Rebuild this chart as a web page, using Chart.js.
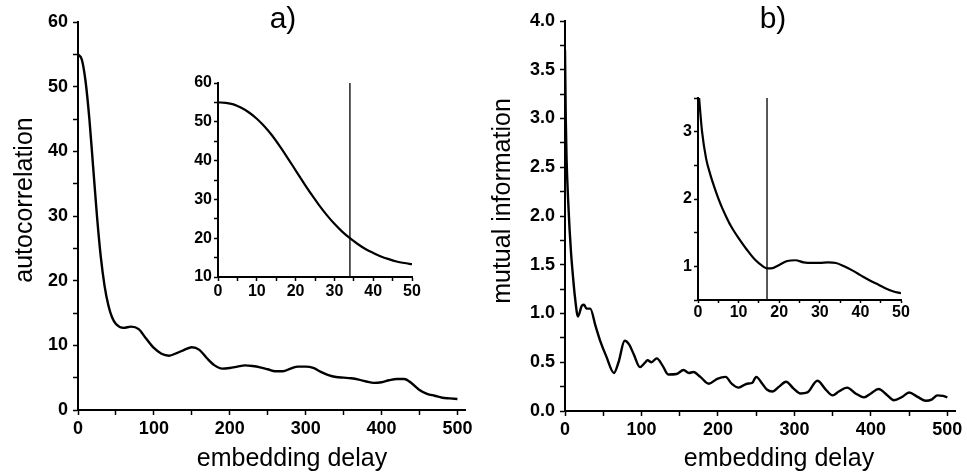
<!DOCTYPE html>
<html>
<head>
<meta charset="utf-8">
<script src="https://cdn.jsdelivr.net/npm/chart.js@4/dist/chart.umd.min.js"></script>
<style>
  body { margin: 0; background: #fff; }
  #wrap { position: relative; width: 967px; height: 476px; }
  canvas { position: absolute; }
</style>
</head>
<body>
<div id="wrap">
  <canvas id="mainA" width="480" height="476" style="left:0;top:0"></canvas>
  <canvas id="mainB" width="480" height="476" style="left:487px;top:0"></canvas>
  <canvas id="insetA" width="250" height="232" style="left:180px;top:68px"></canvas>
  <canvas id="insetB" width="270" height="235" style="left:650px;top:85px"></canvas>
</div>
<script>
// a) autocorrelation vs embedding delay
const delayA = [0, 5, 10, 15, 20, 25, 30, 35, 40, 45, 50,
  60, 70, 80, 90, 100, 110, 120, 130, 140, 150, 160, 170, 180, 190, 200,
  210, 220, 230, 240, 250, 260, 270, 280, 290, 300, 310, 320, 330, 340, 350,
  360, 370, 380, 390, 400, 410, 420, 430, 440, 450, 460, 470, 480, 490, 500];
const acfA = [55, 54.2, 50.8, 45.0, 37.5, 30.0, 23.7, 19.2, 16.2, 14.3, 13.3,
  12.7, 12.9, 12.5, 11.0, 9.6, 8.7, 8.4, 8.8, 9.3, 9.7, 9.3, 8.0, 6.9, 6.4, 6.5,
  6.7, 6.9, 6.8, 6.6, 6.3, 6.0, 6.0, 6.4, 6.7, 6.7, 6.5, 5.9, 5.4, 5.1, 5.0,
  4.9, 4.7, 4.4, 4.2, 4.3, 4.6, 4.8, 4.8, 4.1, 3.1, 2.5, 2.2, 1.9, 1.8, 1.7];

// a) inset, first 50 delays
const delayInsetA = [0, 2, 4, 6, 8, 10, 12, 14, 16, 18, 20, 22, 24, 26, 28, 30,
  32, 34, 36, 38, 40, 42, 44, 46, 48, 50];
const acfInsetA = [55, 54.9, 54.5, 53.6, 52.4, 50.8, 48.8, 46.4, 43.6, 40.6, 37.5,
  34.4, 31.4, 28.6, 26.0, 23.7, 21.7, 20.0, 18.5, 17.2, 16.2, 15.3, 14.6, 14.0, 13.6, 13.3];
const markA = 34;

// b) mutual information vs embedding delay
const delayB = [0, 1, 2, 4, 6, 8, 10, 13, 17, 22, 25, 28, 33, 40, 46, 54, 64, 70, 78, 84,
  90, 98, 104, 108, 113, 120, 128, 135, 146, 155, 162, 168, 177, 188, 199, 210, 218, 227, 238, 245,
  250, 258, 264, 271, 280, 289, 299, 308, 317, 330, 341, 350, 358, 369, 380, 391, 400, 410, 421, 430,
  441, 450, 461, 472, 480, 487, 494, 500];
const miB = [3.7, 3.0, 2.6, 2.18, 1.86, 1.61, 1.42, 1.17, 0.97, 1.08, 1.09, 1.05, 1.05, 0.87, 0.72, 0.56, 0.39, 0.5, 0.72, 0.68,
  0.58, 0.45, 0.49, 0.52, 0.5, 0.54, 0.46, 0.375, 0.38, 0.42, 0.39, 0.40, 0.35, 0.28, 0.33, 0.35, 0.28, 0.24, 0.28, 0.29,
  0.35, 0.28, 0.22, 0.2, 0.25, 0.3, 0.23, 0.18, 0.19, 0.31, 0.22, 0.16, 0.2, 0.24, 0.18, 0.14, 0.18, 0.225, 0.165, 0.11,
  0.145, 0.19, 0.145, 0.105, 0.12, 0.16, 0.155, 0.14];

// b) inset
const delayInsetB = [0, 1, 2, 3, 4, 5, 6, 7, 8, 9, 10, 12, 14, 16, 17, 18, 20, 22, 24, 26,
  28, 30, 32, 34, 36, 38, 40, 42, 44, 46, 48, 50];
const miInsetB = [3.7, 3.0, 2.6, 2.37, 2.18, 2.01, 1.86, 1.73, 1.61, 1.51, 1.42, 1.25, 1.1, 1.0, 0.97, 0.97, 1.02, 1.08, 1.09, 1.06,
  1.05, 1.05, 1.06, 1.05, 1.0, 0.94, 0.87, 0.8, 0.74, 0.68, 0.63, 0.6];
const markB = 17;

// tick labels
const mainXLabels = [0, 100, 200, 300, 400, 500];
const mainAYLabels = [0, 10, 20, 30, 40, 50, 60];
const mainBYLabels = [0, 0.5, 1.0, 1.5, 2.0, 2.5, 3.0, 3.5, 4.0];
const insetXLabels = [0, 10, 20, 30, 40, 50];
const insetAYLabels = [10, 20, 30, 40, 50, 60];
const insetBYLabels = [1, 2, 3];

const FONT = '"Liberation Sans", Arial, Helvetica, sans-serif';
Chart.defaults.font.family = FONT;
Chart.defaults.color = '#000';

function pts(xs, ys) {
  return xs.map((x, i) => ({ x: x, y: ys[i] }));
}

function textLayer(items) {
  return {
    id: 'textLayer',
    afterDraw(chart) {
      const ctx = chart.ctx;
      items.forEach(it => {
        ctx.save();
        ctx.font = it.font;
        ctx.fillStyle = '#000';
        ctx.textAlign = 'center';
        ctx.textBaseline = 'alphabetic';
        ctx.translate(it.x, it.y);
        if (it.rotate) ctx.rotate(it.rotate);
        ctx.fillText(it.text, 0, 0);
        ctx.restore();
      });
    }
  };
}

function makeAxis(o) {
  const near = (a, b) => Math.abs(a - b) < 1e-6;
  return {
    type: 'linear',
    min: o.min,
    max: o.max,
    afterFit: s => { if (o.width) s.width = o.width; if (o.height) s.height = o.height; },
    // major + minor tick marks from min up to the last labelled value
    afterBuildTicks: s => {
      const ticks = [];
      for (let v = o.min; v <= o.last + 1e-6; v += o.step) ticks.push({ value: +v.toFixed(6) });
      s.ticks = ticks;
    },
    ticks: {
      autoSkip: false,
      maxRotation: 0,
      padding: o.pad,
      color: '#000',
      font: { size: o.size, weight: 'bold' },
      callback: v => o.labels.some(l => near(l, v)) ? (o.fmt ? o.fmt(v) : String(v)) : ''
    },
    grid: {
      drawOnChartArea: false,
      drawTicks: true,
      tickLength: o.tick,
      tickColor: '#000',
      tickWidth: 1.5
    },
    border: { display: true, color: '#000', width: 2 }
  };
}

function lineSet(data, w) {
  return {
    data: data,
    borderColor: '#000',
    borderWidth: w,
    pointRadius: 0,
    fill: false,
    cubicInterpolationMode: 'monotone'
  };
}

function markerSet(x, lo, hi) {
  return {
    data: [{ x: x, y: lo }, { x: x, y: hi }],
    borderColor: '#111',
    borderWidth: 1.4,
    pointRadius: 0,
    fill: false
  };
}

function makeChart(id, datasets, x, y, padding, items) {
  return new Chart(document.getElementById(id), {
    type: 'line',
    data: { datasets: datasets },
    options: {
      responsive: false,
      animation: false,
      layout: { padding: padding },
      plugins: { legend: { display: false }, tooltip: { enabled: false } },
      scales: { x: x, y: y }
    },
    plugins: [textLayer(items)]
  });
}

const titleFont = '25px ' + FONT;
const panelFont = '30px ' + FONT;

makeChart('mainA',
  [lineSet(pts(delayA, acfA), 2.4)],
  makeAxis({ min: 0, max: 510, last: 500, step: 50, labels: mainXLabels, size: 18, pad: 3, tick: 5, height: 66 }),
  makeAxis({ min: 0, max: 60, last: 60, step: 5, labels: mainAYLabels, size: 18, pad: 5, tick: 5, width: 78 }),
  { top: 22, right: 15, left: 0, bottom: 0 },
  [
    { text: 'a)', x: 283, y: 28, font: panelFont },
    { text: 'autocorrelation', x: 32, y: 200, font: titleFont, rotate: -Math.PI / 2 },
    { text: 'embedding delay', x: 292, y: 466, font: titleFont }
  ]);

makeChart('mainB',
  [lineSet(pts(delayB, miB), 2.4)],
  makeAxis({ min: 0, max: 510, last: 500, step: 50, labels: mainXLabels, size: 18, pad: 3, tick: 5, height: 65 }),
  makeAxis({ min: 0, max: 4, last: 4, step: 0.25, labels: mainBYLabels, size: 18, pad: 5, tick: 5, width: 78, fmt: v => v.toFixed(1) }),
  { top: 21, right: 12, left: 0, bottom: 0 },
  [
    { text: 'b)', x: 286, y: 28, font: panelFont },
    { text: 'mutual information', x: 23, y: 201, font: titleFont, rotate: -Math.PI / 2 },
    { text: 'embedding delay', x: 292, y: 466, font: titleFont }
  ]);

makeChart('insetA',
  [lineSet(pts(delayInsetA, acfInsetA), 2.2), markerSet(markA, 10, 60)],
  makeAxis({ min: 0, max: 50, last: 50, step: 5, labels: insetXLabels, size: 16, pad: 1, tick: 4, height: 23 }),
  makeAxis({ min: 10, max: 60, last: 60, step: 5, labels: insetAYLabels, size: 16, pad: 2, tick: 4, width: 38 }),
  { top: 15, right: 18, left: 0, bottom: 0 },
  []);

makeChart('insetB',
  [lineSet(pts(delayInsetB, miInsetB), 2.2), markerSet(markB, 0.5, 3.5)],
  makeAxis({ min: 0, max: 50, last: 50, step: 5, labels: insetXLabels, size: 16, pad: 0, tick: 3, height: 20 }),
  makeAxis({ min: 0.5, max: 3.5, last: 3.5, step: 0.5, labels: insetBYLabels, size: 16, pad: 2, tick: 4, width: 48 }),
  { top: 13, right: 19, left: 0, bottom: 0 },
  []);
</script>
</body>
</html>
